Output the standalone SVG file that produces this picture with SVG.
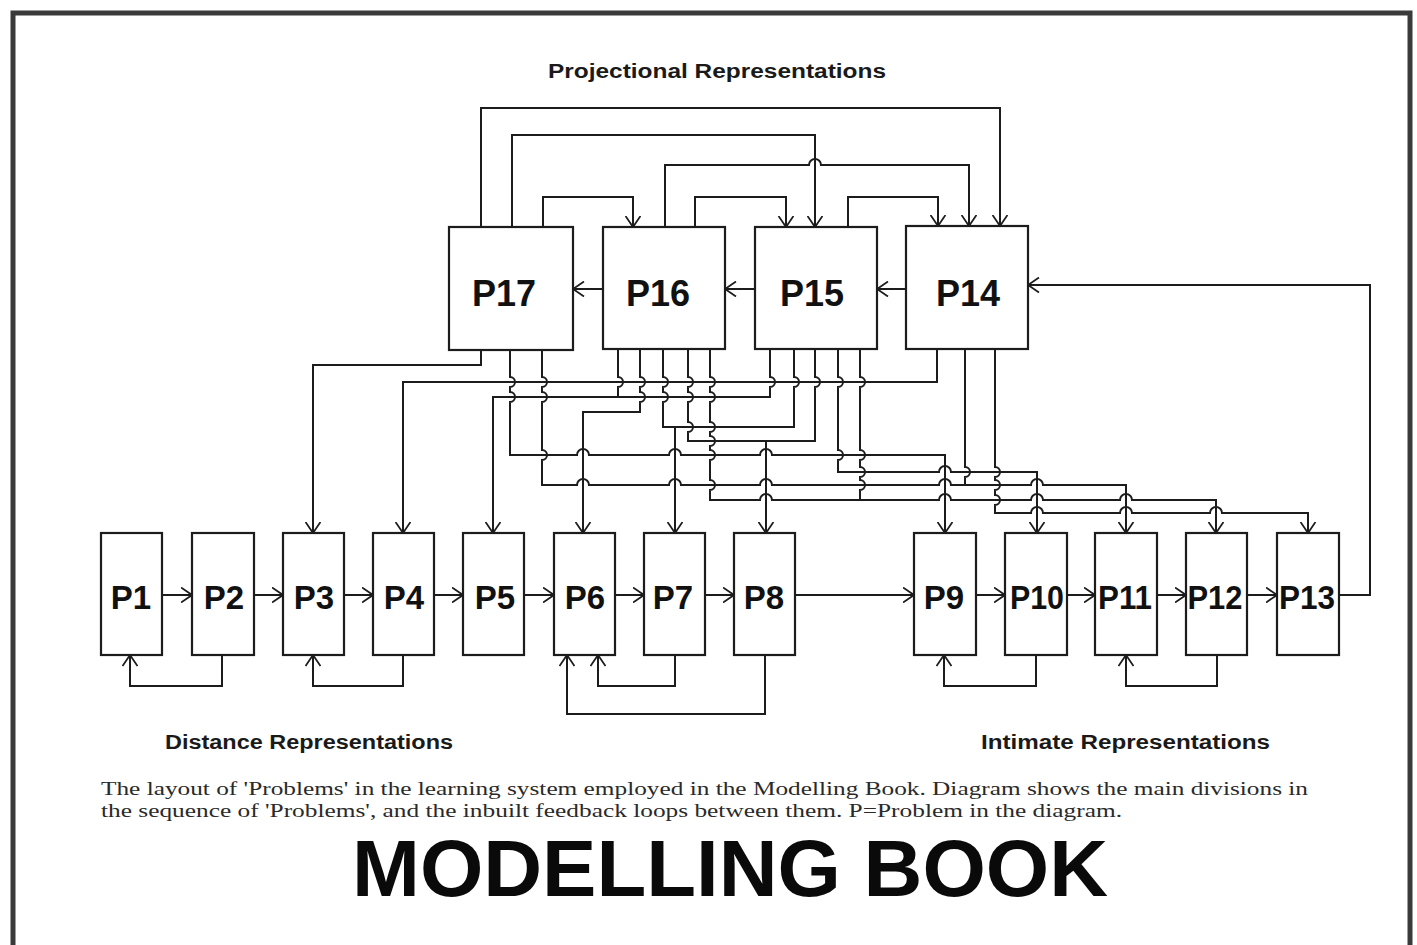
<svg xmlns="http://www.w3.org/2000/svg" width="1417" height="945" viewBox="0 0 1417 945">
<defs>
<marker id="ah" viewBox="0 0 12 16" refX="11.5" refY="8" markerWidth="12" markerHeight="16" markerUnits="userSpaceOnUse" orient="auto">
<path d="M0.5,0.5 L11.5,8 L0.5,15.5" fill="none" stroke="#1c1c1c" stroke-width="1.8"/>
</marker>
<style>
.box{fill:none;stroke:#1c1c1c;stroke-width:2.2}
.lbl{font-family:"Liberation Sans",Arial,sans-serif;font-weight:bold;fill:#111;text-anchor:middle}
.big{font-size:36px}
.sm{font-size:33px}
.c path{fill:none;stroke:#1c1c1c;stroke-width:2}
.a{marker-end:url(#ah)}
.hd{font-family:"Liberation Sans",Arial,sans-serif;font-weight:bold;font-size:20px;fill:#1a1a1a}
.cap{font-family:"Liberation Serif","Times New Roman",serif;font-size:19px;fill:#2a2a2a}
</style>
</defs>
<rect x="0" y="0" width="1417" height="945" fill="#ffffff"/>
<rect x="13" y="13" width="1397" height="945" fill="#ffffff" stroke="#3a3a3a" stroke-width="5"/>

<text class="hd" x="548" y="78" textLength="338" lengthAdjust="spacingAndGlyphs">Projectional Representations</text>
<text class="hd" x="165" y="749" textLength="288" lengthAdjust="spacingAndGlyphs">Distance Representations</text>
<text class="hd" x="981" y="749" textLength="289" lengthAdjust="spacingAndGlyphs">Intimate Representations</text>
<text class="cap" x="101" y="795" textLength="1207" lengthAdjust="spacingAndGlyphs">The layout of 'Problems' in the learning system employed in the Modelling Book.  Diagram shows the main divisions in</text>
<text class="cap" x="101" y="817" textLength="1021" lengthAdjust="spacingAndGlyphs">the sequence of 'Problems', and the inbuilt feedback loops between them.  P=Problem in the diagram.</text>
<text x="352" y="896" font-family="'Liberation Sans',Arial,sans-serif" font-weight="bold" font-size="80" fill="#0a0a0a" textLength="756" lengthAdjust="spacingAndGlyphs">MODELLING BOOK</text>

<g id="P17"><rect class="box" x="449" y="227" width="124" height="123"/><text class="lbl big" x="504" y="306">P17</text></g>
<g id="P16"><rect class="box" x="603" y="227" width="122" height="122"/><text class="lbl big" x="658" y="306">P16</text></g>
<g id="P15"><rect class="box" x="755" y="227" width="122" height="122"/><text class="lbl big" x="812" y="306">P15</text></g>
<g id="P14"><rect class="box" x="906" y="226" width="122" height="123"/><text class="lbl big" x="968" y="306">P14</text></g>

<g id="P1"><rect class="box" x="101" y="533" width="61" height="122"/><text class="lbl sm" x="131" y="609">P1</text></g>
<g id="P2"><rect class="box" x="192" y="533" width="62" height="122"/><text class="lbl sm" x="224" y="609">P2</text></g>
<g id="P3"><rect class="box" x="283" y="533" width="61" height="122"/><text class="lbl sm" x="314" y="609">P3</text></g>
<g id="P4"><rect class="box" x="373" y="533" width="61" height="122"/><text class="lbl sm" x="404" y="609">P4</text></g>
<g id="P5"><rect class="box" x="463" y="533" width="61" height="122"/><text class="lbl sm" x="495" y="609">P5</text></g>
<g id="P6"><rect class="box" x="554" y="533" width="61" height="122"/><text class="lbl sm" x="585" y="609">P6</text></g>
<g id="P7"><rect class="box" x="644" y="533" width="61" height="122"/><text class="lbl sm" x="673" y="609">P7</text></g>
<g id="P8"><rect class="box" x="734" y="533" width="61" height="122"/><text class="lbl sm" x="764" y="609">P8</text></g>
<g id="P9"><rect class="box" x="914" y="533" width="62" height="122"/><text class="lbl sm" x="944" y="609">P9</text></g>
<g id="P10"><rect class="box" x="1005" y="533" width="62" height="122"/><text class="lbl sm" x="1037" y="609" textLength="54" lengthAdjust="spacingAndGlyphs">P10</text></g>
<g id="P11"><rect class="box" x="1095" y="533" width="62" height="122"/><text class="lbl sm" x="1125" y="609" textLength="54" lengthAdjust="spacingAndGlyphs">P11</text></g>
<g id="P12"><rect class="box" x="1186" y="533" width="61" height="122"/><text class="lbl sm" x="1215" y="609" textLength="55" lengthAdjust="spacingAndGlyphs">P12</text></g>
<g id="P13"><rect class="box" x="1277" y="533" width="62" height="122"/><text class="lbl sm" x="1307" y="609" textLength="56" lengthAdjust="spacingAndGlyphs">P13</text></g>

<g id="connectors" class="c">
<path class="a" d="M481,227 V108 H1000 V226"/>
<path class="a" d="M512,227 V135 H815 V227"/>
<path class="a" d="M665,227 V165 H809 a6,6 0 0 1 12,0 H969 V226"/>
<path class="a" d="M543,227 V197 H633 V227"/>
<path class="a" d="M695,227 V197 H786 V227"/>
<path class="a" d="M848,227 V197 H938 V226"/>
<path class="a" d="M906,289 H877"/>
<path class="a" d="M755,289 H725"/>
<path class="a" d="M603,289 H573"/>
<path class="a" d="M1339,595 H1370 V285 H1028"/>
<path class="a" d="M162,595 H192"/>
<path class="a" d="M254,595 H283"/>
<path class="a" d="M344,595 H373"/>
<path class="a" d="M434,595 H463"/>
<path class="a" d="M524,595 H554"/>
<path class="a" d="M615,595 H644"/>
<path class="a" d="M705,595 H734"/>
<path class="a" d="M795,595 H914"/>
<path class="a" d="M976,595 H1005"/>
<path class="a" d="M1067,595 H1095"/>
<path class="a" d="M1157,595 H1186"/>
<path class="a" d="M1247,595 H1277"/>
<path class="a" d="M222,655 V686 H130 V655"/>
<path class="a" d="M403,655 V686 H313 V655"/>
<path class="a" d="M675,655 V686 H598 V655"/>
<path class="a" d="M765,655 V714 H567 V655"/>
<path class="a" d="M1036,655 V686 H944 V655"/>
<path class="a" d="M1217,655 V686 H1126 V655"/>
<path class="a" d="M481,350 V365 H313 V533"/>
<path class="a" d="M937,349 V382 H403 V533"/>
<path class="a" d="M770,349 V377 a5,5 0 0 1 0,10 V397 H493 V533"/>
<path d="M618,349 V377 a5,5 0 0 1 0,10 V397"/>
<path class="a" d="M640,349 V377 a5,5 0 0 1 0,10 V392 a5,5 0 0 1 0,10 V412 H583 V533"/>
<path d="M663,349 V377 a5,5 0 0 1 0,10 V392 a5,5 0 0 1 0,10 V427 H794 V387 a5,5 0 0 0 0,-10 V349"/>
<path class="a" d="M675,427 V533"/>
<path d="M688,349 V377 a5,5 0 0 1 0,10 V392 a5,5 0 0 1 0,10 V422 a5,5 0 0 1 0,10 V441 H815 V387 a5,5 0 0 0 0,-10 V349"/>
<path class="a" d="M766,441 V533"/>
<path class="a" d="M510,350 V377 a5,5 0 0 1 0,10 V392 a5,5 0 0 1 0,10 V455 H577 a6,6 0 0 1 12,0 H669 a6,6 0 0 1 12,0 H760 a6,6 0 0 1 12,0 H945 V533"/>
<path class="a" d="M838,349 V377 a5,5 0 0 1 0,10 V450 a5,5 0 0 1 0,10 V472 H939 a6,6 0 0 1 12,0 H1037 V533"/>
<path class="a" d="M542,350 V377 a5,5 0 0 1 0,10 V392 a5,5 0 0 1 0,10 V450 a5,5 0 0 1 0,10 V485 H577 a6,6 0 0 1 12,0 H669 a6,6 0 0 1 12,0 H760 a6,6 0 0 1 12,0 H939 a6,6 0 0 1 12,0 H1031 a6,6 0 0 1 12,0 H1126 V533"/>
<path d="M965,349 V467 a5,5 0 0 1 0,10 V485"/>
<path class="a" d="M710,349 V377 a5,5 0 0 1 0,10 V392 a5,5 0 0 1 0,10 V422 a5,5 0 0 1 0,10 V436 a5,5 0 0 1 0,10 V450 a5,5 0 0 1 0,10 V480 a5,5 0 0 1 0,10 V500 H760 a6,6 0 0 1 12,0 H939 a6,6 0 0 1 12,0 H1031 a6,6 0 0 1 12,0 H1120 a6,6 0 0 1 12,0 H1216 V533"/>
<path d="M860,349 V377 a5,5 0 0 1 0,10 V450 a5,5 0 0 1 0,10 V467 a5,5 0 0 1 0,10 V480 a5,5 0 0 1 0,10 V500"/>
<path class="a" d="M995,349 V467 a5,5 0 0 1 0,10 V480 a5,5 0 0 1 0,10 V495 a5,5 0 0 1 0,10 V513 H1031 a6,6 0 0 1 12,0 H1120 a6,6 0 0 1 12,0 H1210 a6,6 0 0 1 12,0 H1308 V533"/>
</g>
</svg>
